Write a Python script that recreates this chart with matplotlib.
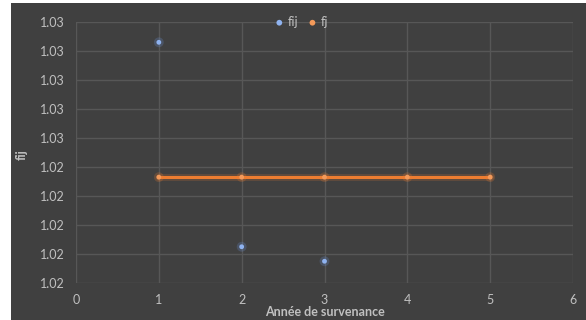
import matplotlib
matplotlib.use("Agg")
import matplotlib.pyplot as plt
from matplotlib.patches import Rectangle
from matplotlib.ticker import FormatStrFormatter, MultipleLocator

plt.rcParams["font.family"] = ["Lato", "DejaVu Sans"]

# Development factors by accident year
years_fij = [1, 2, 3]
fij = [1.0326, 1.0185, 1.0175]
years_fj = [1, 2, 3, 4, 5]
fj = [1.0233, 1.0233, 1.0233, 1.0233, 1.0233]

x_ticks = [0, 1, 2, 3, 4, 5, 6]

bg = "#404040"
grid_c = "#575757"
text_c = "#c0c0c0"
blue = "#6f9be8"
orange = "#ed7d31"

fig = plt.figure(figsize=(5.86, 3.2), dpi=100, facecolor="white")
fig.patches.append(Rectangle((11 / 586, 0), 1, 1 - 3 / 320, transform=fig.transFigure,
                             facecolor=bg, edgecolor="none", zorder=-10))
ax = fig.add_axes([76 / 586, 1 - 283 / 320, (573 - 76) / 586, (283 - 22) / 320])
ax.set_facecolor(bg)

# soft glow behind line and markers
ax.plot(years_fj, fj, color=orange, lw=5, alpha=0.18, solid_capstyle="round", zorder=2)
ax.plot(years_fj, fj, color=orange, lw=2.2, zorder=3)
ax.scatter(years_fj, fj, s=50, color=orange, alpha=0.22, edgecolors="none", zorder=3)
ax.scatter(years_fj, fj, s=12, color="#f49a5a", edgecolors="none", zorder=4, label="fj")
ax.scatter(years_fij, fij, s=50, color=blue, alpha=0.22, edgecolors="none", zorder=3)
ax.scatter(years_fij, fij, s=12, color="#8fb3f0", edgecolors="none", zorder=4, label="fij")

ax.set_xlim(0, 6)
ax.set_ylim(1.016, 1.034)
ax.set_xticks(x_ticks)
ax.yaxis.set_major_locator(MultipleLocator(0.002))
ax.yaxis.set_major_formatter(FormatStrFormatter("%.2f"))
ax.grid(True, color=grid_c, lw=1)
ax.set_axisbelow(True)
for s in ax.spines.values():
    s.set_visible(False)
ax.tick_params(colors=text_c, length=0, labelsize=9, pad=8)

ax.text(0.5, -0.11, "Année de survenance", transform=ax.transAxes,
        color=text_c, fontsize=9, fontweight="bold", ha="center", va="center")
fig.text(22 / 586, 1 - 155 / 320, "fij", color=text_c, fontsize=9, fontweight="bold",
         rotation=90, ha="center", va="center")

handles, labels = ax.get_legend_handles_labels()
order = [1, 0]
leg = ax.legend([handles[i] for i in order], [labels[i] for i in order],
                loc="center", bbox_to_anchor=(0.455, 1.0), ncol=2, frameon=False,
                fontsize=9, handlelength=0.6, handletextpad=0.4,
                columnspacing=0.8, markerscale=1.2)
for t in leg.get_texts():
    t.set_color(text_c)

fig.savefig("out.png", dpi=100, facecolor=fig.get_facecolor())
